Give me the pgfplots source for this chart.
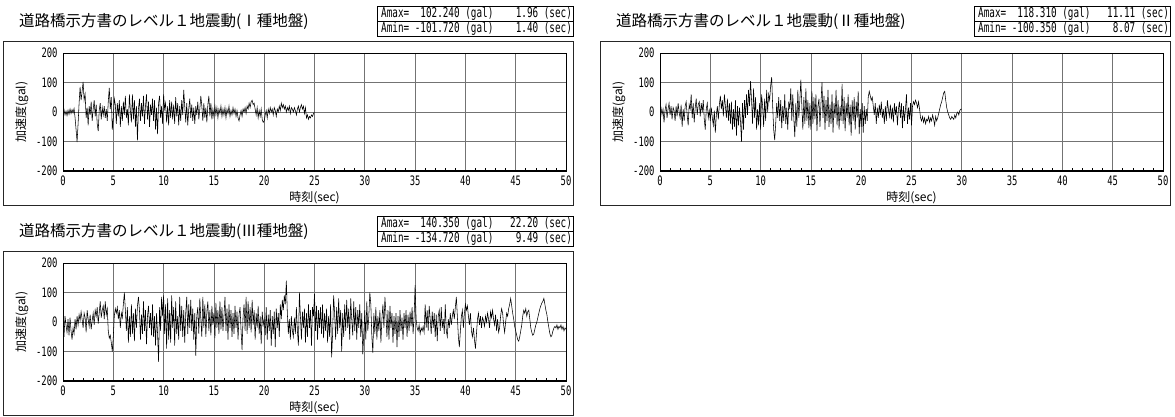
\documentclass[border=0pt]{standalone}
\usepackage{pgfplots}
\usepackage{pgfplotstable}
\pgfplotsset{compat=1.18}
\usepackage{fontspec}
\setmainfont{Noto Sans CJK JP}
\newfontfamily\gmb[FakeStretch=0.69]{DejaVu Sans Mono}
\newfontfamily\gmt[FakeStretch=0.68]{DejaVu Sans Mono}

% Level 1, ground type I (0-25 s, dt=0.1 s)
\pgfplotstableread[row sep=\\]{
y\\
-5\\8\\-10\\3\\-12\\6\\-8\\10\\-5\\8\\
-3\\12\\-20\\-60\\-101.7\\-40\\30\\85\\40\\70\\
102.2\\40\\60\\-20\\15\\-45\\20\\-10\\35\\-30\\
10\\40\\-15\\25\\-40\\-65\\5\\30\\-25\\15\\
-10\\20\\-20\\10\\-30\\35\\82\\10\\50\\-60\\
-20\\45\\25\\-40\\30\\-15\\40\\-50\\20\\-30\\
35\\-10\\55\\-20\\10\\-45\\60\\5\\-35\\60\\
-25\\40\\-50\\20\\-96\\10\\45\\-30\\30\\-15\\
55\\-40\\20\\60\\-25\\35\\-50\\25\\-10\\45\\
-30\\40\\-60\\15\\-75\\30\\55\\-20\\20\\-40\\
60\\10\\30\\-35\\20\\-45\\40\\-20\\35\\-25\\
25\\-40\\50\\-15\\30\\-45\\20\\-30\\40\\-10\\
75\\20\\-35\\30\\-45\\10\\45\\-20\\25\\-30\\
15\\-40\\20\\-10\\35\\-25\\10\\55\\20\\-30\\
30\\-20\\15\\-35\\25\\55\\-15\\30\\-25\\10\\
-15\\20\\-10\\15\\-20\\10\\-5\\20\\-15\\10\\
-10\\15\\-20\\10\\-5\\20\\-15\\5\\-10\\15\\
-5\\10\\-15\\5\\-20\\-30\\-10\\5\\-15\\10\\
0\\15\\-5\\20\\10\\30\\15\\35\\40\\25\\
30\\10\\-10\\15\\-20\\5\\-15\\10\\-25\\-35\\
-30\\-10\\5\\-20\\10\\-5\\15\\0\\10\\-10\\
15\\5\\-15\\10\\0\\20\\5\\30\\15\\25\\
10\\20\\0\\15\\5\\20\\-5\\15\\10\\0\\
15\\5\\-10\\10\\20\\0\\15\\25\\10\\20\\
-5\\15\\-20\\-10\\-25\\-15\\-20\\-10\\-15\\-5\\
0\\
}\dataA

% Level 1, ground type II (0-30 s)
\pgfplotstableread[row sep=\\]{
y\\
30\\15\\-10\\10\\-35\\5\\25\\-20\\10\\30\\
-10\\20\\-25\\15\\5\\-30\\20\\-15\\30\\0\\
-20\\25\\-50\\10\\-30\\20\\35\\-10\\-45\\25\\
10\\60\\-20\\30\\-35\\15\\45\\-10\\25\\35\\
-15\\30\\0\\40\\-25\\-60\\10\\30\\-20\\5\\
-30\\15\\-20\\-45\\5\\-70\\-10\\20\\-25\\25\\
55\\10\\40\\-15\\60\\20\\-20\\45\\-30\\30\\
-40\\35\\-60\\10\\-50\\40\\-80\\20\\-45\\15\\
-30\\-100.35\\30\\-60\\40\\-20\\60\\-10\\75\\20\\
105\\40\\-40\\80\\-20\\50\\-60\\10\\-45\\30\\
-60\\60\\20\\-50\\45\\-30\\75\\0\\60\\40\\
90\\118.31\\20\\-60\\-95\\-40\\30\\-20\\50\\-30\\
40\\-55\\20\\-30\\60\\-40\\15\\-60\\35\\10\\
80\\-30\\60\\-20\\-85\\30\\-50\\75\\-20\\40\\
110\\20\\-60\\50\\-40\\80\\-30\\40\\-55\\30\\
-60\\70\\-40\\50\\-25\\60\\-65\\20\\45\\-50\\
30\\100\\-20\\55\\-60\\40\\-30\\75\\-50\\25\\
-40\\60\\-70\\30\\-20\\75\\-45\\40\\-60\\20\\
-30\\95\\-40\\50\\-65\\30\\-20\\60\\-45\\25\\
-80\\40\\-30\\50\\-60\\35\\-20\\70\\-75\\10\\
-50\\30\\-70\\20\\-40\\10\\-30\\50\\70\\55\\
40\\50\\20\\-10\\30\\-40\\15\\-20\\25\\-10\\
35\\-20\\10\\-40\\20\\-30\\40\\10\\-15\\25\\
-25\\15\\-35\\30\\-10\\20\\-45\\10\\35\\-20\\
30\\-55\\20\\-30\\10\\60\\-40\\15\\-25\\30\\
-45\\20\\35\\25\\40\\30\\15\\35\\10\\-20\\
-30\\-15\\-35\\-20\\-40\\-25\\-30\\-15\\-35\\-20\\
-30\\-10\\-25\\-45\\-15\\-30\\-20\\-5\\10\\25\\
35\\50\\65\\70\\40\\15\\0\\-10\\-20\\-25\\
-15\\-20\\-25\\-10\\-20\\-5\\0\\-10\\5\\10\\
10\\
}\dataB

% Level 1, ground type III (0-50 s)
\pgfplotstableread[row sep=\\]{
y\\
-20\\-50\\20\\-10\\-35\\10\\-45\\15\\-30\\-60\\
-20\\-40\\10\\-25\\20\\-10\\25\\5\\35\\10\\
-20\\30\\15\\-35\\40\\10\\-15\\25\\-25\\5\\
30\\-10\\40\\20\\50\\-5\\30\\70\\15\\40\\
55\\10\\70\\25\\45\\-30\\-55\\-45\\-70\\-100\\
-50\\20\\45\\30\\50\\10\\40\\-20\\30\\15\\
60\\100\\40\\-30\\50\\-70\\20\\-50\\60\\-40\\
30\\-65\\45\\-20\\55\\85\\40\\-60\\25\\-40\\
70\\-30\\40\\-75\\20\\55\\-20\\30\\-45\\60\\
-50\\20\\-80\\30\\-40\\-134.72\\50\\-30\\85\\20\\
90\\-40\\60\\-90\\80\\-60\\40\\-70\\90\\-20\\
50\\-80\\70\\-40\\20\\-60\\85\\-30\\55\\-50\\
40\\-70\\30\\85\\-40\\60\\-20\\75\\-30\\45\\
-60\\30\\-115\\20\\50\\-40\\80\\10\\-50\\85\\
-20\\60\\-50\\35\\70\\-30\\40\\-45\\55\\-10\\
30\\-55\\65\\-20\\40\\-40\\70\\-25\\50\\-30\\
20\\85\\-30\\45\\-60\\60\\-20\\40\\-50\\30\\
-40\\55\\-20\\35\\-60\\25\\50\\-30\\-95\\20\\
60\\-30\\85\\-40\\70\\-20\\50\\-35\\75\\-10\\
40\\-60\\30\\-20\\55\\-40\\20\\-75\\35\\-10\\
10\\-45\\50\\-60\\25\\-30\\40\\-80\\20\\-40\\
35\\-85\\45\\-20\\30\\-50\\60\\10\\75\\40\\
90\\60\\140.35\\30\\-40\\10\\-60\\20\\-30\\-50\\
15\\-40\\50\\-30\\-80\\100\\20\\-60\\35\\-20\\
45\\-70\\30\\-50\\60\\-20\\40\\-80\\50\\20\\
95\\-30\\55\\-60\\40\\-20\\50\\-40\\60\\-55\\
30\\-30\\45\\-70\\20\\-50\\60\\-120\\-40\\90\\
30\\-60\\50\\-40\\80\\-20\\40\\-100\\30\\-50\\
60\\-30\\75\\-20\\45\\-60\\80\\10\\-45\\70\\
-30\\50\\-60\\40\\-20\\60\\-50\\30\\-110\\-40\\
40\\-60\\70\\-30\\20\\100\\60\\-50\\-105\\30\\
-40\\50\\-60\\20\\-30\\40\\-70\\10\\60\\-20\\
85\\30\\-50\\40\\-60\\55\\-20\\30\\-70\\20\\
-40\\30\\-85\\20\\-50\\40\\-30\\15\\-60\\30\\
-20\\40\\-50\\25\\-30\\35\\-15\\50\\-40\\20\\
125\\10\\-20\\-30\\-10\\-40\\-20\\-30\\-15\\-35\\
60\\-20\\40\\-30\\55\\10\\-40\\35\\-20\\30\\
-50\\25\\-65\\20\\40\\-30\\50\\-20\\10\\-40\\
60\\-30\\-50\\10\\-20\\30\\-10\\20\\40\\10\\
50\\85\\20\\-50\\-85\\-30\\20\\40\\-20\\30\\
60\\40\\55\\20\\-10\\30\\-30\\-50\\-20\\-60\\
-90\\-40\\10\\30\\-10\\20\\-20\\15\\5\\-15\\
20\\0\\30\\10\\-20\\35\\15\\40\\10\\-10\\
25\\-30\\10\\-35\\-20\\20\\45\\30\\-10\\-35\\
0\\30\\20\\45\\60\\80\\55\\30\\10\\-15\\
-30\\-45\\-60\\-65\\-50\\-30\\-10\\20\\40\\30\\
45\\20\\35\\40\\10\\-20\\-35\\-45\\-40\\-25\\
-10\\0\\15\\30\\45\\55\\65\\70\\80\\60\\
40\\25\\0\\-20\\-40\\-50\\-45\\-30\\-20\\-15\\
-20\\-10\\-25\\-15\\-20\\-10\\-25\\-15\\-30\\-20\\
-25\\
}\dataC

\pgfplotsset{wv/.style={
  scale only axis, width=503pt, height=118pt,
  anchor=north west,
  xmin=0, xmax=50, ymin=-200, ymax=200,
  xtick={0,5,...,50}, ytick={-200,-100,0,100,200},
  minor x tick num=4,
  xmajorgrids, ymajorgrids,
  major grid style={draw=black!55, line width=0.7pt},
  tick align=inside, xtick pos=left, ytick pos=left,
  major tick length=0pt, minor tick length=3pt,
  minor tick style={black, line width=0.6pt},
  axis line style={black, line width=0.8pt},
  ticklabel style={font=\gmt\fontsize{13}{14}\selectfont},
  yticklabel style={xshift=-2pt},
  xticklabel style={yshift=-1pt},
  /pgf/number format/assume math mode=true,
  xlabel={時刻(sec)}, ylabel={加速度(gal)},
  label style={font=\fontsize{12}{13}\selectfont},
  xlabel style={at={(axis description cs:0.5,-0.225)}, anchor=center},
  ylabel style={at={(axis description cs:-0.082,0.5)}, anchor=center},
}}

\newcommand{\panel}[5]{%
  \begin{scope}[shift={(#1pt,-#2pt)}]
    \draw[black!85, line width=0.8pt] (3pt,-41pt) rectangle (573pt,-205pt);
    \node[anchor=west, inner sep=0pt, font=\fontsize{15.5}{17}\selectfont] at (19pt,-21pt) {#3};
    \draw[black, line width=1pt] (377pt,-6pt) rectangle (573pt,-36pt);
    \draw[black, line width=1pt] (377pt,-21pt) -- (573pt,-21pt);
    \node[anchor=west, inner sep=0pt, font=\gmb\fontsize{13.5}{14}\selectfont] at (381pt,-13.5pt) {#4};
    \node[anchor=west, inner sep=0pt, font=\gmb\fontsize{13.5}{14}\selectfont] at (381pt,-28.5pt) {#5};
  \end{scope}}

\begin{document}
\begin{tikzpicture}
\path[use as bounding box] (0pt,0pt) rectangle (1175pt,-416pt);

\panel{0}{0}{道路橋示方書のレベル１地震動(Ⅰ種地盤)}{Amax=~~102.240~(gal)~~~~1.96~(sec)}{Amin=~-101.720~(gal)~~~~1.40~(sec)}
\panel{597}{0}{道路橋示方書のレベル１地震動(Ⅱ種地盤)}{Amax=~~118.310~(gal)~~~11.11~(sec)}{Amin=~-100.350~(gal)~~~~8.07~(sec)}
\panel{0}{210}{道路橋示方書のレベル１地震動(Ⅲ種地盤)}{Amax=~~140.350~(gal)~~~22.20~(sec)}{Amin=~-134.720~(gal)~~~~9.49~(sec)}

\begin{axis}[wv, at={(63pt,-53pt)}]
\addplot[black, line width=0.55pt, mark=none] table[x expr=\coordindex*0.1, y=y] {\dataA};
\draw[black, line width=1.4pt] (rel axis cs:0,1) -- (rel axis cs:0,0) -- (rel axis cs:1,0);
\end{axis}

\begin{axis}[wv, at={(660pt,-53pt)}]
\addplot[black, line width=0.55pt, mark=none] table[x expr=\coordindex*0.1, y=y] {\dataB};
\draw[black, line width=1.4pt] (rel axis cs:0,1) -- (rel axis cs:0,0) -- (rel axis cs:1,0);
\end{axis}

\begin{axis}[wv, at={(63pt,-263pt)}]
\addplot[black, line width=0.55pt, mark=none] table[x expr=\coordindex*0.1, y=y] {\dataC};
\draw[black, line width=1.4pt] (rel axis cs:0,1) -- (rel axis cs:0,0) -- (rel axis cs:1,0);
\end{axis}
\end{tikzpicture}
\end{document}
